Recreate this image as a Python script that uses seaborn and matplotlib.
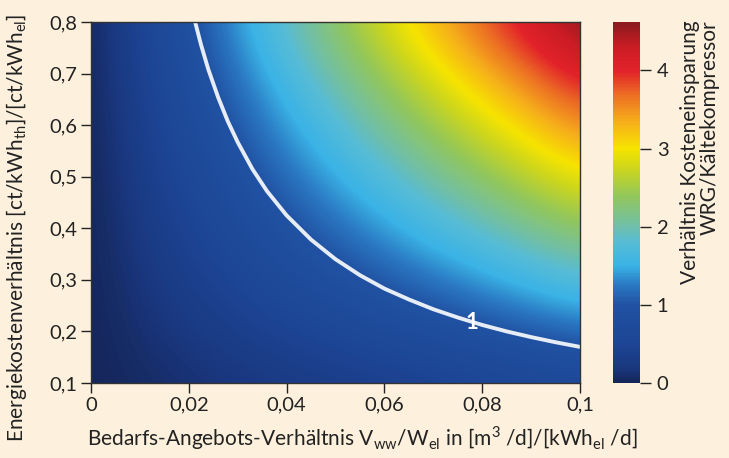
import matplotlib
matplotlib.use("Agg")
import matplotlib.pyplot as plt
import numpy as np
import seaborn as sns
from matplotlib.colors import LinearSegmentedColormap

# Data (ratio of cost savings WRG / compressor)
x_vals = [0, 0.01, 0.02, 0.03, 0.04, 0.05, 0.06, 0.07, 0.08, 0.09, 0.1]
y_vals = [0.1, 0.2, 0.3, 0.4, 0.5, 0.6, 0.7, 0.8]
ratio = [
    [0, 0.06, 0.12, 0.18, 0.24, 0.29, 0.35, 0.41, 0.47, 0.53, 0.59],
    [0, 0.12, 0.24, 0.35, 0.47, 0.59, 0.71, 0.82, 0.94, 1.06, 1.18],
    [0, 0.18, 0.35, 0.53, 0.71, 0.88, 1.06, 1.23, 1.41, 1.59, 1.76],
    [0, 0.24, 0.47, 0.71, 0.94, 1.18, 1.41, 1.65, 1.88, 2.12, 2.35],
    [0, 0.29, 0.59, 0.88, 1.18, 1.47, 1.76, 2.06, 2.35, 2.65, 2.94],
    [0, 0.35, 0.71, 1.06, 1.41, 1.76, 2.12, 2.47, 2.82, 3.18, 3.53],
    [0, 0.41, 0.82, 1.23, 1.65, 2.06, 2.47, 2.88, 3.29, 3.70, 4.12],
    [0, 0.47, 0.94, 1.41, 1.88, 2.35, 2.82, 3.29, 3.76, 4.23, 4.62],
]
# iso-line "1"
iso_x = [0.0213, 0.0225, 0.024, 0.026, 0.028, 0.030, 0.033, 0.036, 0.040, 0.045,
         0.050, 0.055, 0.060, 0.065, 0.070, 0.075, 0.080, 0.085, 0.090, 0.095, 0.100]
iso_y = [0.800, 0.756, 0.708, 0.654, 0.607, 0.567, 0.515, 0.472, 0.425, 0.378,
         0.340, 0.309, 0.283, 0.262, 0.243, 0.227, 0.2125, 0.200, 0.189, 0.179, 0.170]
iso_label = "1"
iso_label_pos = (0.078, 0.217)

x_ticks = [0, 0.02, 0.04, 0.06, 0.08, 0.1]
x_ticklabels = ["0", "0,02", "0,04", "0,06", "0,08", "0,1"]
y_ticks = [0.1, 0.2, 0.3, 0.4, 0.5, 0.6, 0.7, 0.8]
y_ticklabels = ["0,1", "0,2", "0,3", "0,4", "0,5", "0,6", "0,7", "0,8"]
cbar_ticks = [0, 1, 2, 3, 4]

bg = "#fdf1dd"
txt = "#222222"
vmax = 4.62

sns.set_style("ticks")
plt.rcParams["font.family"] = ["Lato", "DejaVu Sans"]
plt.rcParams["mathtext.fontset"] = "custom"
plt.rcParams["mathtext.rm"] = "Lato"

stops = [
    (0.0, "#15265a"), (0.2, "#1a3880"), (0.5, "#1d4595"), (1.0, "#2152a3"),
    (1.25, "#2a78c2"), (1.5, "#3ab3e6"), (1.8, "#57bcd6"), (2.0, "#6fbfaa"),
    (2.4, "#93c75a"), (2.75, "#cdd61c"), (3.0, "#f6e400"), (3.35, "#f6ae1b"),
    (3.7, "#ec6c24"), (4.0, "#e2222a"), (4.3, "#cc1c24"), (vmax, "#8a1a1e"),
]
cmap = LinearSegmentedColormap.from_list("wrg", [(v / vmax, c) for v, c in stops])

fig = plt.figure(figsize=(7.29, 4.58), dpi=100, facecolor=bg)
ax = fig.add_axes([0.1248, 0.1638, 0.6708, 0.7882])
cax = fig.add_axes([0.841, 0.1638, 0.037, 0.7882])

Z = np.array(ratio)
dx = (x_vals[1] - x_vals[0]) / 2
dy = (y_vals[1] - y_vals[0]) / 2
im = ax.imshow(Z, origin="lower", aspect="auto", cmap=cmap, vmin=0, vmax=vmax,
               interpolation="bicubic",
               extent=[x_vals[0] - dx, x_vals[-1] + dx, y_vals[0] - dy, y_vals[-1] + dy])

sns.lineplot(x=iso_x, y=iso_y, ax=ax, color="#e6edf7", linewidth=2.8,
             sort=False, estimator=None)
ax.text(iso_label_pos[0], iso_label_pos[1], iso_label, color="white", fontsize=16,
        fontweight="bold", ha="center", va="center")

ax.set_xlim(0, 0.1)
ax.set_ylim(0.1, 0.8)
ax.set_xticks(x_ticks)
ax.set_xticklabels(x_ticklabels)
ax.set_yticks(y_ticks)
ax.set_yticklabels(y_ticklabels)
ax.tick_params(axis="both", direction="out", length=7, width=1, labelsize=14.5,
               color=txt, labelcolor=txt, pad=3)
for s in ax.spines.values():
    s.set_color("#333333")
    s.set_linewidth(1)

ax.set_xlabel(r"Bedarfs-Angebots-Verhältnis V$_\mathregular{ww}$/W$_\mathregular{el}$ in [m$^\mathregular{3}$ /d]/[kWh$_\mathregular{el}$ /d]",
              fontsize=15, color=txt, labelpad=4)
ax.xaxis.set_label_coords(0.554, -0.115)
ax.set_ylabel(r"Energiekostenverhältnis [ct/kWh$_\mathregular{th}$]/[ct/kWh$_\mathregular{el}$]",
              fontsize=15, color=txt)
ax.yaxis.set_label_coords(-0.127, 0.43)

cb = fig.colorbar(im, cax=cax, ticks=cbar_ticks)
cb.outline.set_visible(False)
cax.tick_params(direction="out", length=8, width=1, labelsize=14.5, color=txt,
                labelcolor=txt, pad=4)
fig.text(700 / 729, 1 - 20 / 458, "Verhältnis Kosteneinsparung\nWRG/Kältekompressor",
         rotation=90, ha="center", va="top", multialignment="right",
         fontsize=15, color=txt, linespacing=1.0)

fig.savefig("out.png", dpi=100, facecolor=bg)
